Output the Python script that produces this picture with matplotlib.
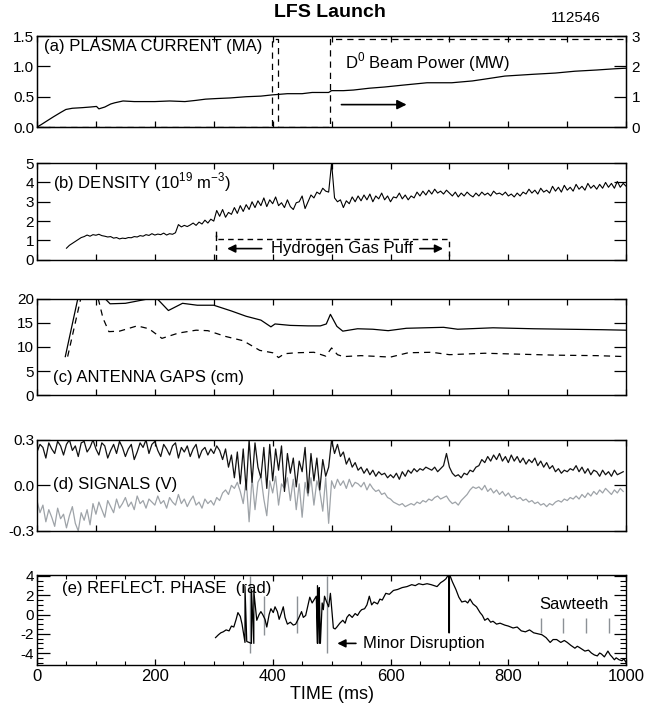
import numpy as np
import matplotlib
matplotlib.use("Agg")
import matplotlib.pyplot as plt
from matplotlib.ticker import MultipleLocator

plt.rcParams['font.family'] = ['Liberation Sans', 'DejaVu Sans']
plt.rcParams['mathtext.fontset'] = 'custom'
plt.rcParams['mathtext.rm'] = 'Liberation Sans'
plt.rcParams['axes.unicode_minus'] = False

# (a) plasma current (MA) and beam power (MW)
t_ip = [0, 7, 15, 28, 40, 49, 60, 77, 90, 101, 105, 115, 125, 132, 146, 165, 181, 200, 225, 251,
        270, 286, 305, 328, 355, 380, 399, 425, 450, 467, 495, 500, 520, 537, 564, 590, 620, 662,
        704, 739, 760, 794, 843, 880, 913, 950, 980, 1000]
ip = [0.0, 0.04, 0.09, 0.17, 0.24, 0.29, 0.31, 0.32, 0.33, 0.34, 0.30, 0.33, 0.38, 0.40, 0.43, 0.42,
      0.42, 0.42, 0.43, 0.42, 0.44, 0.46, 0.47, 0.48, 0.50, 0.51, 0.53, 0.55, 0.55, 0.57, 0.57, 0.60,
      0.60, 0.61, 0.64, 0.66, 0.69, 0.73, 0.73, 0.76, 0.79, 0.84, 0.87, 0.89, 0.92, 0.94, 0.96, 0.97]
t_pb = [0, 399, 399, 409, 409, 498, 498, 1000]
pb = [0, 0, 2.9, 2.9, 0, 0, 2.9, 2.9]

# (b) density (1e19 m^-3), every 5 ms from 50 ms
t_ne = np.arange(50, 1001, 5)
ne = [0.60, 0.75, 0.85, 0.95, 1.05, 1.15, 1.20, 1.28, 1.22, 1.30,
      1.27, 1.32, 1.25, 1.22, 1.18, 1.20, 1.12, 1.15, 1.08, 1.12,
      1.10, 1.15, 1.14, 1.20, 1.18, 1.25, 1.22, 1.30, 1.26, 1.35,
      1.28, 1.33, 1.30, 1.38, 1.28, 1.35, 1.32, 1.40, 1.82, 1.70,
      1.78, 1.72, 1.80, 1.90, 1.78, 1.95, 1.85, 2.05, 1.90, 2.10,
      2.00, 2.55, 2.25, 2.60, 2.20, 2.45, 2.35, 2.70, 2.40, 2.80,
      2.50, 2.85, 2.60, 3.00, 2.70, 3.05, 2.80, 3.20, 2.75, 3.10,
      2.90, 3.25, 2.80, 2.95, 2.70, 3.10, 2.75, 2.60, 2.95, 3.00,
      3.30, 2.65, 3.00, 3.35, 3.20, 3.50, 3.40, 3.70, 3.55, 3.50,
      5.00, 3.20, 3.00, 3.10, 2.70, 3.05, 2.90, 3.25, 3.00, 3.30,
      3.05, 3.35, 3.10, 3.40, 3.00, 3.30, 3.15, 3.45, 3.10, 3.30,
      3.00, 3.25, 3.20, 3.45, 3.15, 3.35, 3.10, 3.30, 3.20, 3.50,
      3.30, 3.55, 3.35, 3.60, 3.40, 3.65, 3.45, 3.55, 3.40, 3.60,
      3.45, 3.30, 3.50, 3.25, 3.45, 3.30, 3.50, 3.35, 3.25, 3.45,
      3.30, 3.50, 3.35, 3.45, 3.30, 3.55, 3.40, 3.45, 3.35, 3.50,
      3.30, 3.40, 3.25, 3.45, 3.30, 3.50, 3.40, 3.65, 3.45, 3.60,
      3.40, 3.70, 3.50, 3.60, 3.45, 3.80, 3.55, 3.75, 3.50, 3.85,
      3.60, 3.75, 3.55, 3.90, 3.65, 3.80, 3.60, 3.95, 3.70, 3.85,
      3.65, 3.90, 3.70, 4.00, 3.75, 3.95, 3.70, 4.05, 3.75, 3.95,
      3.80]
t_gas = [304, 304, 304, 700, 700]
gas = [0.0, 1.5, 1.1, 1.1, 0.2]

# (c) antenna gaps (cm)
t_gap1 = [48, 70, 85, 100, 112, 124, 150, 167, 192, 202, 223, 247, 272, 300, 330, 355, 380, 397,
          404, 430, 460, 481, 491, 498, 509, 519, 544, 570, 596, 627, 690, 714, 774, 843, 900, 960, 1000]
gap1 = [8.0, 20.5, 24.0, 24.0, 20.5, 19.0, 19.1, 19.5, 20.1, 20.3, 17.6, 19.1, 18.7, 18.7, 17.5,
        16.4, 15.6, 14.2, 14.8, 14.5, 14.4, 14.4, 14.8, 16.8, 14.3, 13.3, 13.8, 13.7, 13.4, 13.9,
        14.1, 13.7, 14.0, 13.8, 13.7, 13.6, 13.5]
t_gap2 = [52, 75, 90, 100, 112, 122, 140, 170, 190, 212, 240, 270, 290, 320, 350, 378, 400, 410,
          420, 440, 470, 480, 490, 500, 510, 520, 550, 600, 630, 670, 700, 760, 820, 880, 950, 1000]
gap2 = [8.0, 20.5, 24.0, 22.0, 16.0, 13.2, 13.3, 14.4, 13.8, 11.8, 12.9, 13.5, 13.4, 12.2, 11.3,
        9.3, 8.8, 7.8, 8.6, 8.8, 8.9, 8.5, 8.1, 9.8, 8.4, 8.0, 8.2, 7.9, 8.8, 8.9, 8.4, 8.7, 8.5,
        8.3, 8.2, 8.0]

# (d) signals (V), every 5 ms
t_sig = np.arange(0, 1000, 5)
sig_black = [0.22, 0.27, 0.25, 0.18, 0.28, 0.24, 0.21, 0.29, 0.26, 0.20,
             0.27, 0.30, 0.23, 0.26, 0.19, 0.28, 0.29, 0.22, 0.25, 0.30,
             0.24, 0.20, 0.28, 0.26, 0.18, 0.23, 0.27, 0.21, 0.29, 0.25,
             0.19, 0.24, 0.27, 0.17, 0.22, 0.28, 0.25, 0.30, 0.21, 0.27,
             0.29, 0.23, 0.19, 0.27, 0.24, 0.20, 0.26, 0.28, 0.18, 0.25,
             0.22, 0.26, 0.19, 0.24, 0.27, 0.18, 0.23, 0.25, 0.20, 0.24,
             0.21, 0.26, 0.23, 0.17, 0.24, 0.12, 0.20, 0.05, 0.22, 0.01,
             0.24, -0.03, 0.30, 0.02, 0.28, 0.12, 0.05, 0.25, -0.02, 0.27,
             0.03, 0.24, 0.10, 0.26, -0.04, 0.21, 0.08, 0.18, -0.01, 0.16,
             0.09, 0.25, -0.05, 0.21, 0.03, 0.18, -0.03, 0.17, 0.06, 0.12,
             0.30, 0.21, 0.27, 0.19, 0.22, 0.14, 0.18, 0.12, 0.15, 0.10,
             0.12, 0.08, 0.11, 0.07, 0.10, 0.06, 0.09, 0.07, 0.08, 0.05,
             0.07, 0.05, 0.08, 0.04, 0.09, 0.06, 0.10, 0.08, 0.11, 0.09,
             0.11, 0.10, 0.12, 0.11, 0.10, 0.12, 0.09, 0.11, 0.13, 0.21,
             0.12, 0.08, 0.06, 0.07, 0.05, 0.08, 0.07, 0.10, 0.09, 0.12,
             0.13, 0.17, 0.15, 0.19, 0.16, 0.20, 0.17, 0.21, 0.16, 0.19,
             0.15, 0.20, 0.16, 0.19, 0.15, 0.18, 0.14, 0.17, 0.15, 0.18,
             0.13, 0.16, 0.12, 0.15, 0.11, 0.13, 0.09, 0.11, 0.08, 0.10,
             0.09, 0.11, 0.10, 0.13, 0.09, 0.12, 0.08, 0.11, 0.07, 0.10,
             0.09, 0.06, 0.10, 0.07, 0.09, 0.06, 0.10, 0.07, 0.08, 0.09]
sig_gray = [-0.10, -0.18, -0.13, -0.24, -0.16, -0.21, -0.27, -0.15, -0.22, -0.19,
            -0.28, -0.20, -0.14, -0.25, -0.30, -0.18, -0.23, -0.16, -0.26, -0.12,
            -0.19, -0.11, -0.16, -0.21, -0.10, -0.14, -0.18, -0.09, -0.15, -0.12,
            -0.08, -0.14, -0.11, -0.16, -0.07, -0.12, -0.10, -0.15, -0.09, -0.11,
            -0.13, -0.07, -0.12, -0.10, -0.15, -0.08, -0.11, -0.13, -0.06, -0.12,
            -0.09, -0.14, -0.10, -0.07, -0.13, -0.11, -0.15, -0.09, -0.12, -0.10,
            -0.13, -0.08, -0.10, -0.05, -0.03, -0.06, 0.00, -0.02, 0.02, -0.04,
            -0.12, 0.04, -0.24, 0.05, -0.16, 0.02, 0.06, -0.09, -0.20, 0.03,
            -0.05, 0.06, -0.13, 0.01, -0.02, 0.05, -0.10, 0.04, -0.16, 0.01,
            -0.21, 0.02, -0.07, 0.05, -0.13, 0.03, -0.04, -0.17, 0.05, -0.25,
            0.03, -0.02, 0.04, 0.00, 0.03, -0.02, 0.04, -0.01, 0.02, 0.01,
            -0.01, 0.02, -0.03, 0.01, -0.02, -0.04, -0.03, -0.06, -0.05, -0.08,
            -0.09, -0.11, -0.12, -0.13, -0.12, -0.14, -0.13, -0.12, -0.13, -0.11,
            -0.12, -0.10, -0.11, -0.09, -0.10, -0.08, -0.07, -0.09, -0.08, -0.07,
            -0.10, -0.12, -0.11, -0.13, -0.10, -0.08, -0.06, -0.03, -0.01, -0.02,
            -0.01, -0.03, 0.00, -0.04, -0.02, -0.05, -0.03, -0.06, -0.04, -0.07,
            -0.05, -0.08, -0.07, -0.09, -0.08, -0.10, -0.09, -0.11, -0.10, -0.12,
            -0.11, -0.13, -0.12, -0.14, -0.12, -0.13, -0.11, -0.10, -0.11, -0.09,
            -0.10, -0.08, -0.09, -0.07, -0.09, -0.06, -0.08, -0.05, -0.07, -0.04,
            -0.06, -0.03, -0.05, -0.02, -0.04, -0.06, -0.03, -0.05, -0.02, -0.04]

# (e) reflectometer phase (rad), (time, phase) pairs
phase_pts = [(303, -2.4), (308, -2.1), (312, -1.9), (316, -1.8), (321, -1.6), (326, -1.7),
             (330, -1.2), (334, -1.3), (338, -0.5), (341, 0.2), (345, -0.2), (348, -1.0),
             (353, -2.9), (353, 2.9), (356, -2.8), (364, -3.0), (364, 2.6), (368, -3.0),
             (368, 2.4), (373, -0.6), (377, 0.0), (380, 0.3), (383, 0.0), (387, -0.5),
             (390, -1.3), (394, 0.0), (397, 0.6), (401, 0.2), (404, 0.8), (408, 0.3),
             (411, -0.5), (415, 0.2), (418, 0.8), (421, -0.3), (425, -1.0), (430, -0.8),
             (435, -1.1), (439, -1.0), (444, -0.4), (449, 0.3), (452, -0.3), (456, -0.1),
             (460, 1.0), (463, 1.8), (467, 1.2), (470, 1.5), (474, 1.9), (476, -3.0),
             (476, 3.0), (479, -3.0), (479, 2.8), (481, -3.0), (484, 1.2), (486, 0.5),
             (488, 1.9), (491, 1.4), (495, 0.8), (498, 2.2), (503, -1.4), (506, -1.5),
             (509, -1.3), (514, -0.9), (519, -0.6), (523, -0.9), (526, -0.3), (530, 0.0),
             (535, -0.3), (540, 0.1), (544, -0.1), (548, 0.3), (551, 0.5), (556, 0.6),
             (560, 1.0), (564, 1.9), (568, 1.0), (572, 1.3), (578, 1.1), (582, 1.6),
             (586, 1.5), (592, 2.2), (598, 2.1), (605, 2.5), (612, 2.6), (620, 2.8),
             (628, 2.9), (636, 3.1), (642, 3.0), (648, 3.2), (655, 3.1), (662, 3.2),
             (669, 3.1), (674, 3.0), (679, 2.9), (685, 3.3), (690, 3.5), (694, 3.7),
             (699, 4.2), (699, -1.9), (700, -1.9), (700, 4.2), (705, 3.4), (711, 2.6),
             (716, 1.8), (721, 1.3), (727, 1.4), (731, 1.2), (735, 1.6), (740, 1.1),
             (746, 0.8), (752, 0.2), (756, -0.1), (760, -0.6), (765, -0.4), (770, -0.8),
             (774, -0.7), (780, -1.0), (786, -0.9), (794, -1.1), (800, -1.2), (808, -1.4),
             (815, -1.3), (822, -1.7), (829, -1.8), (836, -1.6), (843, -1.9), (850, -2.0),
             (857, -2.1), (864, -2.4), (871, -2.9), (876, -2.6), (882, -2.6), (889, -2.9),
             (895, -2.7), (900, -2.9), (906, -3.2), (913, -3.5), (917, -3.3), (920, -3.4),
             (925, -3.6), (930, -3.8), (936, -3.7), (941, -4.0), (946, -4.2), (951, -4.3),
             (955, -4.0), (958, -4.1), (963, -4.4), (969, -3.8), (973, -4.2), (976, -4.4),
             (980, -4.7), (983, -4.5), (988, -4.7), (993, -4.8), (996, -4.6), (1000, -5.0)]
t_ph = [p[0] for p in phase_pts]
phase = [p[1] for p in phase_pts]
gray_t = [361, 385, 442, 493]
gray_lo = [-4.0, -2.1, -1.9, -4.0]
gray_hi = [4.0, 1.9, 1.9, 4.0]
saw_t = [856, 892, 932, 971]


def frame(ax, ylim, ymajor, yminor=None):
    ax.set_xlim(0, 1000)
    ax.set_ylim(*ylim)
    ax.xaxis.set_major_locator(MultipleLocator(100))
    ax.yaxis.set_major_locator(MultipleLocator(ymajor))
    if yminor:
        ax.yaxis.set_minor_locator(MultipleLocator(yminor))
    ax.tick_params(which='major', direction='in', top=True, right=True, labelsize=11,
                   width=0.9, pad=2)
    ax.tick_params(axis='y', which='major', length=9)
    ax.tick_params(axis='x', which='major', length=4)
    ax.tick_params(which='minor', direction='in', top=True, right=True, length=4, width=0.8)
    ax.tick_params(axis='x', labelbottom=False)
    for s in ax.spines.values():
        s.set_linewidth(1.0)


fig = plt.figure(figsize=(6.46, 7.06), dpi=100)
L, W = 0.0573, 0.912

# (a)
ax1 = fig.add_axes([L, 0.820, W, 0.129])
frame(ax1, (0, 1.5), 0.5)
ax1.set_yticks([0, 0.5, 1.0, 1.5])
ax1.set_yticklabels(['0.0', '0.5', '1.0', '1.5'])
ax1.tick_params(axis='y', right=False)
ax1.plot(t_ip, ip, color='black', lw=0.9)
ax1r = ax1.twinx()
ax1r.set_ylim(0, 3)
ax1r.set_yticks([0, 1, 2, 3])
ax1r.tick_params(direction='in', length=9, labelsize=11, width=0.9, pad=4)
ax1r.plot(t_pb, pb, color='black', lw=0.9, ls=(0, (5, 4)))
ax1.text(12, 1.33, '(a) PLASMA CURRENT (MA)', fontsize=12, va='center')
ax1.text(522, 1.07, 'D$^{0}$ Beam Power (MW)', fontsize=12, va='center')
ax1.annotate('', xy=(632, 0.37), xytext=(512, 0.37),
             arrowprops=dict(arrowstyle='-|>', color='black', lw=1.2, mutation_scale=14))
fig.text(0.51, 0.983, 'LFS Launch', fontsize=14, fontweight='bold', ha='center', va='center')
fig.text(0.93, 0.975, '112546', fontsize=11, ha='right', va='center')

# (b)
ax2 = fig.add_axes([L, 0.632, W, 0.137])
frame(ax2, (0, 5), 1)
ax2.plot(t_ne, ne, color='black', lw=0.8)
ax2.plot(t_gas, gas, color='black', lw=1.0, ls=(0, (4, 3)))
ax2.text(27, 4.0, '(b) DENSITY (10$^{19}$ m$^{\\mathregular{-3}}$)', fontsize=12, va='center')
ax2.text(517, 0.58, 'Hydrogen Gas Puff', fontsize=12, ha='center', va='center')
ax2.annotate('', xy=(318, 0.58), xytext=(386, 0.58),
             arrowprops=dict(arrowstyle='-|>', color='black', lw=1.2, mutation_scale=12))
ax2.annotate('', xy=(694, 0.58), xytext=(645, 0.58),
             arrowprops=dict(arrowstyle='-|>', color='black', lw=1.2, mutation_scale=12))

# (c)
ax3 = fig.add_axes([L, 0.4405, W, 0.136])
frame(ax3, (0, 20), 5)
ax3.plot(t_gap1, gap1, color='black', lw=0.9)
ax3.plot(t_gap2, gap2, color='black', lw=0.9, ls=(0, (5, 4)))
ax3.text(27, 3.7, '(c) ANTENNA GAPS (cm)', fontsize=12, va='center')

# (d)
ax4 = fig.add_axes([L, 0.248, W, 0.129])
frame(ax4, (-0.3, 0.3), 0.3)
ax4.set_yticks([-0.3, 0.0, 0.3])
ax4.set_yticklabels(['-0.3', '0.0', '0.3'])
ax4.plot(t_sig, sig_gray, color='#9ea3a8', lw=0.9)
ax4.plot(t_sig, sig_black, color='#111111', lw=0.9)
ax4.text(27, 0.005, '(d) SIGNALS (V)', fontsize=12, va='center')

# (e)
ax5 = fig.add_axes([L, 0.058, W, 0.1275])
frame(ax5, (-5.25, 4.1), 2, 0.5)
ax5.xaxis.set_major_locator(MultipleLocator(200))
ax5.xaxis.set_minor_locator(MultipleLocator(50))
ax5.tick_params(axis='x', labelbottom=True, labelsize=12, pad=3)
ax5.tick_params(axis='x', which='minor', length=3)
ax5.vlines(gray_t, gray_lo, gray_hi, color='#8c9196', lw=1.0)
ax5.vlines(saw_t, -1.9, -0.4, color='#8c9196', lw=1.0)
ax5.plot(t_ph, phase, color='black', lw=0.9)
ax5.text(42, 2.7, '(e) REFLECT. PHASE  (rad)', fontsize=12, va='center')
ax5.text(912, 1.0, 'Sawteeth', fontsize=12, ha='center', va='center')
ax5.text(554, -3.0, 'Minor Disruption', fontsize=12, va='center')
ax5.annotate('', xy=(505, -3.0), xytext=(546, -3.0),
             arrowprops=dict(arrowstyle='-|>', color='black', lw=1.2, mutation_scale=12))
ax5.set_xlabel('TIME (ms)', fontsize=13, labelpad=1)

fig.savefig('out.png', dpi=100)
